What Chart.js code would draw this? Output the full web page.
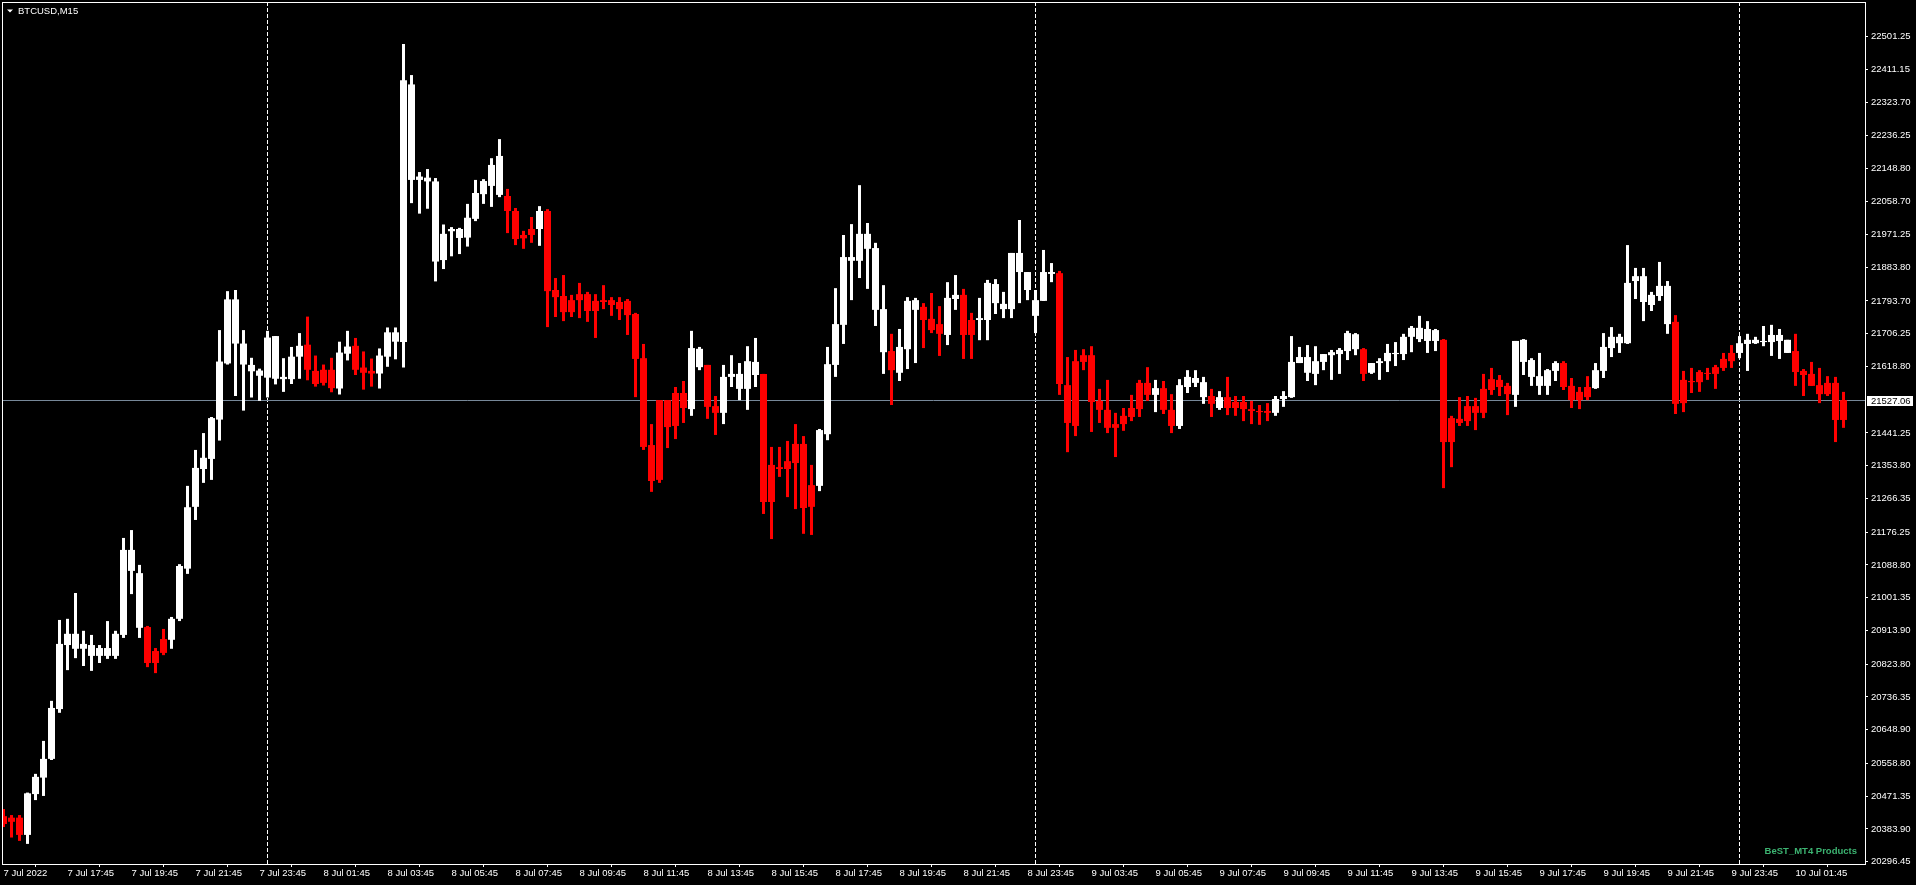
<!DOCTYPE html>
<html>
<head>
<meta charset="utf-8">
<title>BTCUSD,M15</title>
<script src="https://cdn.jsdelivr.net/npm/chart.js@4"></script>
<style>
  html, body { margin: 0; padding: 0; background: #000; overflow: hidden; }
  canvas { display: block; background: #000; }
</style>
</head>
<body>
<canvas id="mt4Chart" width="1916" height="885"></canvas>
<script>
// BTCUSD M15 bars, 7 Jul 15:45 -> 10 Jul 02:15 (one entry per bar)
const openPrices = [
  20418, 20414, 20414, 20368, 20477, 20521, 20571, 20704, 20875, 20865,
  20865, 20846, 20846, 20846, 20846, 20902, 21073, 20921, 20923, 20859,
  20891, 20889, 20945, 21079, 21244, 21345, 21372, 21477, 21627, 21680,
  21624, 21606, 21594, 21589, 21586, 21585, 21585, 21645, 21677, 21607,
  21610, 21610, 21560, 21653, 21674, 21616, 21607, 21600, 21645, 21685,
  21684, 22117, 22117, 22113, 21899, 21903, 21980, 21962, 21963, 22013,
  22079, 22101, 22077, 22074, 22034, 21970, 21986, 21986, 22034, 21823,
  21807, 21796, 21812, 21812, 21794, 21796, 21796, 21791, 21794, 21759,
  21641, 21409, 21529, 21529, 21548, 21548, 21505, 21617, 21623, 21513,
  21495, 21591, 21559, 21559, 21596, 21599, 21356, 21350, 21366, 21412,
  21412, 21302, 21300, 21438, 21623, 21730, 21901, 21901, 21933, 21770,
  21657, 21660, 21602, 21665, 21770, 21778, 21746, 21732, 21703, 21799,
  21810, 21743, 21743, 21743, 21788, 21772, 21772, 21871, 21823, 21754,
  21794, 21866, 21868, 21569, 21633, 21649, 21649, 21527, 21503, 21465,
  21487, 21508, 21575, 21575, 21543, 21561, 21503, 21460, 21564, 21575,
  21537, 21540, 21508, 21537, 21524, 21524, 21505, 21500, 21500, 21495,
  21532, 21537, 21628, 21602, 21599, 21631, 21649, 21652, 21660, 21665,
  21665, 21602, 21628, 21633, 21652, 21652, 21698, 21692, 21687, 21687,
  21690, 21481, 21479, 21513, 21513, 21559, 21585, 21583, 21567, 21543,
  21631, 21591, 21567, 21567, 21607, 21628, 21567, 21551, 21564, 21561,
  21607, 21668, 21681, 21681, 21847, 21791, 21783, 21807, 21732, 21738,
  21583, 21580, 21604, 21601, 21617, 21639, 21655, 21655, 21679, 21681,
  21684, 21684, 21687, 21655, 21660, 21607, 21599, 21569, 21575, 21575,
  21529
];
const highPrices = [
  20437, 20421, 20421, 20481, 20531, 20619, 20726, 20942, 20945, 21014,
  20913, 20902, 20875, 20939, 20913, 21161, 21182, 21089, 20926, 20867,
  20918, 20950, 21091, 21300, 21396, 21441, 21484, 21716, 21820, 21823,
  21716, 21642, 21613, 21714, 21700, 21641, 21671, 21708, 21752, 21648,
  21624, 21642, 21685, 21714, 21695, 21659, 21640, 21667, 21723, 21723,
  22480, 22397, 22138, 22146, 22122, 21998, 21991, 21989, 22053, 22117,
  22119, 22175, 22226, 22093, 22042, 21981, 22018, 22047, 22039, 21855,
  21863, 21810, 21842, 21818, 21812, 21836, 21804, 21804, 21799, 21762,
  21679, 21465, 21529, 21529, 21564, 21580, 21714, 21671, 21623, 21540,
  21623, 21649, 21628, 21673, 21695, 21599, 21404, 21404, 21420, 21465,
  21433, 21356, 21452, 21671, 21828, 21970, 21999, 22103, 22002, 21949,
  21836, 21706, 21719, 21804, 21802, 21788, 21815, 21780, 21844, 21863,
  21826, 21762, 21802, 21850, 21852, 21818, 21922, 22010, 21871, 21823,
  21930, 21895, 21874, 21644, 21663, 21665, 21673, 21559, 21583, 21495,
  21508, 21543, 21583, 21617, 21583, 21580, 21545, 21585, 21609, 21609,
  21591, 21559, 21553, 21591, 21540, 21540, 21527, 21516, 21521, 21540,
  21553, 21700, 21671, 21676, 21673, 21652, 21663, 21668, 21714, 21708,
  21668, 21628, 21641, 21679, 21684, 21706, 21727, 21754, 21740, 21719,
  21692, 21487, 21537, 21540, 21535, 21599, 21615, 21596, 21575, 21687,
  21692, 21641, 21655, 21612, 21633, 21633, 21588, 21564, 21593, 21628,
  21708, 21724, 21706, 21943, 21882, 21882, 21818, 21898, 21847, 21756,
  21607, 21615, 21609, 21615, 21623, 21655, 21676, 21700, 21706, 21698,
  21727, 21730, 21719, 21690, 21706, 21612, 21631, 21615, 21593, 21591,
  21551
];
const lowPrices = [
  20389, 20361, 20352, 20344, 20461, 20472, 20568, 20694, 20808, 20840,
  20819, 20806, 20827, 20838, 20838, 20894, 21011, 20894, 20816, 20800,
  20848, 20865, 20939, 21065, 21209, 21308, 21316, 21421, 21624, 21540,
  21501, 21536, 21527, 21536, 21571, 21551, 21572, 21586, 21582, 21565,
  21568, 21550, 21544, 21635, 21596, 21557, 21565, 21560, 21618, 21638,
  21616, 22055, 22027, 22040, 21846, 21879, 21913, 21919, 21939, 22007,
  22053, 22045, 22071, 21975, 21943, 21933, 21949, 21941, 21724, 21751,
  21740, 21751, 21748, 21738, 21695, 21772, 21754, 21743, 21703, 21537,
  21396, 21284, 21308, 21401, 21425, 21468, 21487, 21609, 21479, 21436,
  21465, 21564, 21529, 21503, 21564, 21225, 21158, 21324, 21270, 21238,
  21172, 21169, 21286, 21422, 21591, 21679, 21796, 21855, 21826, 21727,
  21599, 21516, 21580, 21612, 21628, 21668, 21708, 21647, 21676, 21770,
  21639, 21639, 21689, 21689, 21759, 21748, 21748, 21788, 21796, 21708,
  21794, 21844, 21543, 21390, 21433, 21609, 21444, 21468, 21441, 21377,
  21447, 21473, 21484, 21527, 21497, 21492, 21441, 21452, 21548, 21564,
  21519, 21484, 21503, 21489, 21487, 21473, 21465, 21463, 21473, 21487,
  21511, 21535, 21628, 21580, 21569, 21609, 21583, 21599, 21636, 21649,
  21580, 21599, 21583, 21604, 21620, 21636, 21657, 21684, 21655, 21660,
  21294, 21350, 21460, 21460, 21449, 21481, 21543, 21540, 21489, 21511,
  21596, 21567, 21543, 21543, 21580, 21556, 21508, 21505, 21529, 21559,
  21588, 21644, 21655, 21679, 21799, 21740, 21767, 21794, 21706, 21492,
  21497, 21548, 21551, 21583, 21559, 21607, 21615, 21641, 21607, 21679,
  21673, 21647, 21639, 21655, 21567, 21540, 21567, 21521, 21540, 21417,
  21455
];
const closePrices = [
  20397, 20403, 20368, 20479, 20523, 20571, 20707, 20878, 20905, 20905,
  20878, 20875, 20867, 20867, 20905, 21129, 21129, 21067, 20827, 20827,
  20854, 20945, 21086, 21243, 21348, 21375, 21481, 21632, 21798, 21798,
  21680, 21623, 21608, 21696, 21700, 21591, 21645, 21674, 21610, 21572,
  21575, 21561, 21656, 21672, 21610, 21602, 21600, 21648, 21710, 21710,
  22383, 22372, 22126, 22123, 22113, 21973, 21986, 21986, 22016, 22082,
  22114, 22157, 22181, 22034, 21959, 21961, 21970, 22034, 21820, 21804,
  21764, 21764, 21796, 21767, 21767, 21791, 21783, 21772, 21756, 21639,
  21404, 21313, 21316, 21457, 21460, 21508, 21668, 21666, 21511, 21495,
  21591, 21599, 21599, 21633, 21631, 21257, 21257, 21345, 21345, 21361,
  21241, 21244, 21449, 21625, 21732, 21911, 21911, 21973, 21973, 21935,
  21772, 21609, 21671, 21794, 21796, 21743, 21716, 21706, 21802, 21810,
  21703, 21703, 21748, 21842, 21839, 21786, 21922, 21922, 21871, 21796,
  21871, 21871, 21572, 21468, 21460, 21631, 21524, 21503, 21455, 21455,
  21465, 21484, 21505, 21543, 21561, 21503, 21460, 21569, 21591, 21588,
  21577, 21519, 21537, 21508, 21508, 21505, 21500, 21497, 21495, 21532,
  21540, 21631, 21644, 21644, 21633, 21652, 21657, 21663, 21708, 21705,
  21599, 21628, 21633, 21655, 21655, 21698, 21722, 21722, 21719, 21716,
  21417, 21417, 21468, 21473, 21495, 21495, 21556, 21564, 21545, 21687,
  21690, 21636, 21593, 21609, 21628, 21564, 21529, 21529, 21537, 21609,
  21671, 21698, 21698, 21842, 21860, 21860, 21810, 21834, 21834, 21519,
  21521, 21577, 21577, 21599, 21599, 21615, 21633, 21681, 21690, 21690,
  21687, 21703, 21703, 21690, 21604, 21596, 21567, 21545, 21545, 21476,
  21476
];

// time axis: one label every 8 bars (2 hours), starting on bar 0
const labelEvery = 8;
const timeLabels = [
  '7 Jul 2022', '7 Jul 17:45', '7 Jul 19:45', '7 Jul 21:45', '7 Jul 23:45',
  '8 Jul 01:45', '8 Jul 03:45', '8 Jul 05:45', '8 Jul 07:45', '8 Jul 09:45',
  '8 Jul 11:45', '8 Jul 13:45', '8 Jul 15:45', '8 Jul 17:45', '8 Jul 19:45',
  '8 Jul 21:45', '8 Jul 23:45', '9 Jul 03:45', '9 Jul 05:45', '9 Jul 07:45',
  '9 Jul 09:45', '9 Jul 11:45', '9 Jul 13:45', '9 Jul 15:45', '9 Jul 17:45',
  '9 Jul 19:45', '9 Jul 21:45', '9 Jul 23:45', '10 Jul 01:45'
];
// first bar of each new day (vertical separators)
const daySeparators = [33, 129, 217];

// price scale labels as MT4 prints them
const priceTicks = [
  22501.25, 22411.15, 22323.70, 22236.25, 22148.80, 22058.70, 21971.25,
  21883.80, 21793.70, 21706.25, 21618.80, 21441.25, 21353.80, 21266.35,
  21176.25, 21088.80, 21001.35, 20913.90, 20823.80, 20736.35, 20648.90,
  20558.80, 20471.35, 20383.90, 20296.45
];
const priceMin = 20290.3;
const priceMax = 22592.1;
const lastPrice = 21527.06;

const symbolTitle = 'BTCUSD,M15';
const watermark = 'BeST_MT4 Products';

const BULL = '#ffffff';
const BEAR = '#ff0000';
const FONT = 'Liberation Sans';

document.addEventListener('DOMContentLoaded', function() {
    const candleColors = closePrices.map((c, i) => c >= openPrices[i] ? BULL : BEAR);
    const wicks = lowPrices.map((lo, i) => ({ x: i, y: [lo, highPrices[i]] }));
    const bodies = openPrices.map((o, i) => ({ x: i, y: [o, closePrices[i]] }));

    // frame, separators, bid line and the little text bits MT4 draws
    const mt4Overlay = {
        id: 'mt4Overlay',
        beforeDatasetsDraw(chart) {
            const { ctx, chartArea: a, scales: { x, y } } = chart;
            ctx.save();
            ctx.lineWidth = 1;
            ctx.strokeStyle = '#ffffff';
            ctx.setLineDash([4, 2]);
            daySeparators.forEach(bar => {
                const px = Math.floor(x.getPixelForValue(bar)) + 0.5;
                ctx.beginPath();
                ctx.moveTo(px, a.top);
                ctx.lineTo(px, a.bottom);
                ctx.stroke();
            });
            ctx.setLineDash([]);
            const py = Math.floor(y.getPixelForValue(lastPrice)) + 0.5;
            ctx.strokeStyle = '#778899';
            ctx.beginPath();
            ctx.moveTo(a.left, py);
            ctx.lineTo(a.right, py);
            ctx.stroke();
            ctx.restore();
        },
        afterDraw(chart) {
            const { ctx, chartArea: a, scales: { y } } = chart;
            ctx.save();
            // white frame round the plot
            ctx.strokeStyle = '#ffffff';
            ctx.lineWidth = 1;
            ctx.strokeRect(a.left + 0.5, a.top + 0.5, a.right - a.left, a.bottom - a.top);

            // title with the little dropdown triangle
            ctx.fillStyle = '#ffffff';
            ctx.beginPath();
            ctx.moveTo(7, 9.5);
            ctx.lineTo(13, 9.5);
            ctx.lineTo(10, 12.5);
            ctx.closePath();
            ctx.fill();
            ctx.font = '9.5px "' + FONT + '"';
            ctx.textBaseline = 'middle';
            ctx.textAlign = 'left';
            ctx.fillText(symbolTitle, 18, 11);

            // current price box on the scale
            const py = Math.floor(y.getPixelForValue(lastPrice));
            ctx.fillStyle = '#ffffff';
            ctx.fillRect(a.right + 2, py - 4, 46, 10);
            ctx.fillStyle = '#000000';
            ctx.fillText(lastPrice.toFixed(2), a.right + 6, py + 1);

            // watermark bottom right
            ctx.font = 'bold 9.5px "' + FONT + '"';
            ctx.fillStyle = '#3cb371';
            ctx.textAlign = 'right';
            ctx.fillText(watermark, a.right - 8, a.bottom - 13);
            ctx.restore();
        }
    };

    const ctx = document.getElementById('mt4Chart').getContext('2d');
    new Chart(ctx, {
        type: 'bar',
        data: {
            datasets: [
                {
                    // high-low wicks
                    data: wicks,
                    backgroundColor: candleColors,
                    barThickness: 3,
                    grouped: false,
                    inflateAmount: 0,
                    borderWidth: 0,
                    minBarLength: 1
                },
                {
                    // open-close bodies
                    data: bodies,
                    backgroundColor: candleColors,
                    barThickness: 7,
                    grouped: false,
                    inflateAmount: 0,
                    borderWidth: 0,
                    minBarLength: 1
                }
            ]
        },
        options: {
            responsive: false,
            animation: false,
            devicePixelRatio: 1,
            events: [],
            layout: {
                padding: { left: 2, top: 2, right: 0, bottom: 0 },
                autoPadding: false
            },
            plugins: {
                legend: { display: false },
                tooltip: { enabled: false }
            },
            scales: {
                x: {
                    type: 'linear',
                    offset: false,
                    min: -0.1875,
                    max: 232.6875,
                    afterBuildTicks: scale => {
                        scale.ticks = timeLabels.map((t, k) => ({ value: k * labelEvery }));
                    },
                    afterFit: scale => {
                        scale.height = 21;
                        scale.paddingLeft = 0;
                        scale.paddingRight = 0;
                    },
                    ticks: {
                        autoSkip: false,
                        maxRotation: 0,
                        minRotation: 0,
                        align: 'start',
                        padding: 1,
                        color: '#ffffff',
                        font: { family: FONT, size: 9.5 },
                        callback: value => timeLabels[Math.round(value / labelEvery)]
                    },
                    grid: {
                        drawOnChartArea: false,
                        drawTicks: true,
                        tickLength: 3,
                        color: '#ffffff'
                    },
                    border: { display: false }
                },
                y: {
                    position: 'right',
                    beginAtZero: false,
                    min: priceMin,
                    max: priceMax,
                    afterBuildTicks: scale => {
                        scale.ticks = priceTicks.map(v => ({ value: v }));
                    },
                    afterFit: scale => {
                        scale.width = 51;
                        scale.paddingTop = 0;
                        scale.paddingBottom = 0;
                    },
                    ticks: {
                        padding: 3,
                        color: '#ffffff',
                        font: { family: FONT, size: 9.5 },
                        callback: value => value.toFixed(2)
                    },
                    grid: {
                        drawOnChartArea: false,
                        drawTicks: true,
                        tickLength: 3,
                        color: '#ffffff'
                    },
                    border: { display: false }
                }
            }
        },
        plugins: [mt4Overlay]
    });
});
</script>
</body>
</html>
